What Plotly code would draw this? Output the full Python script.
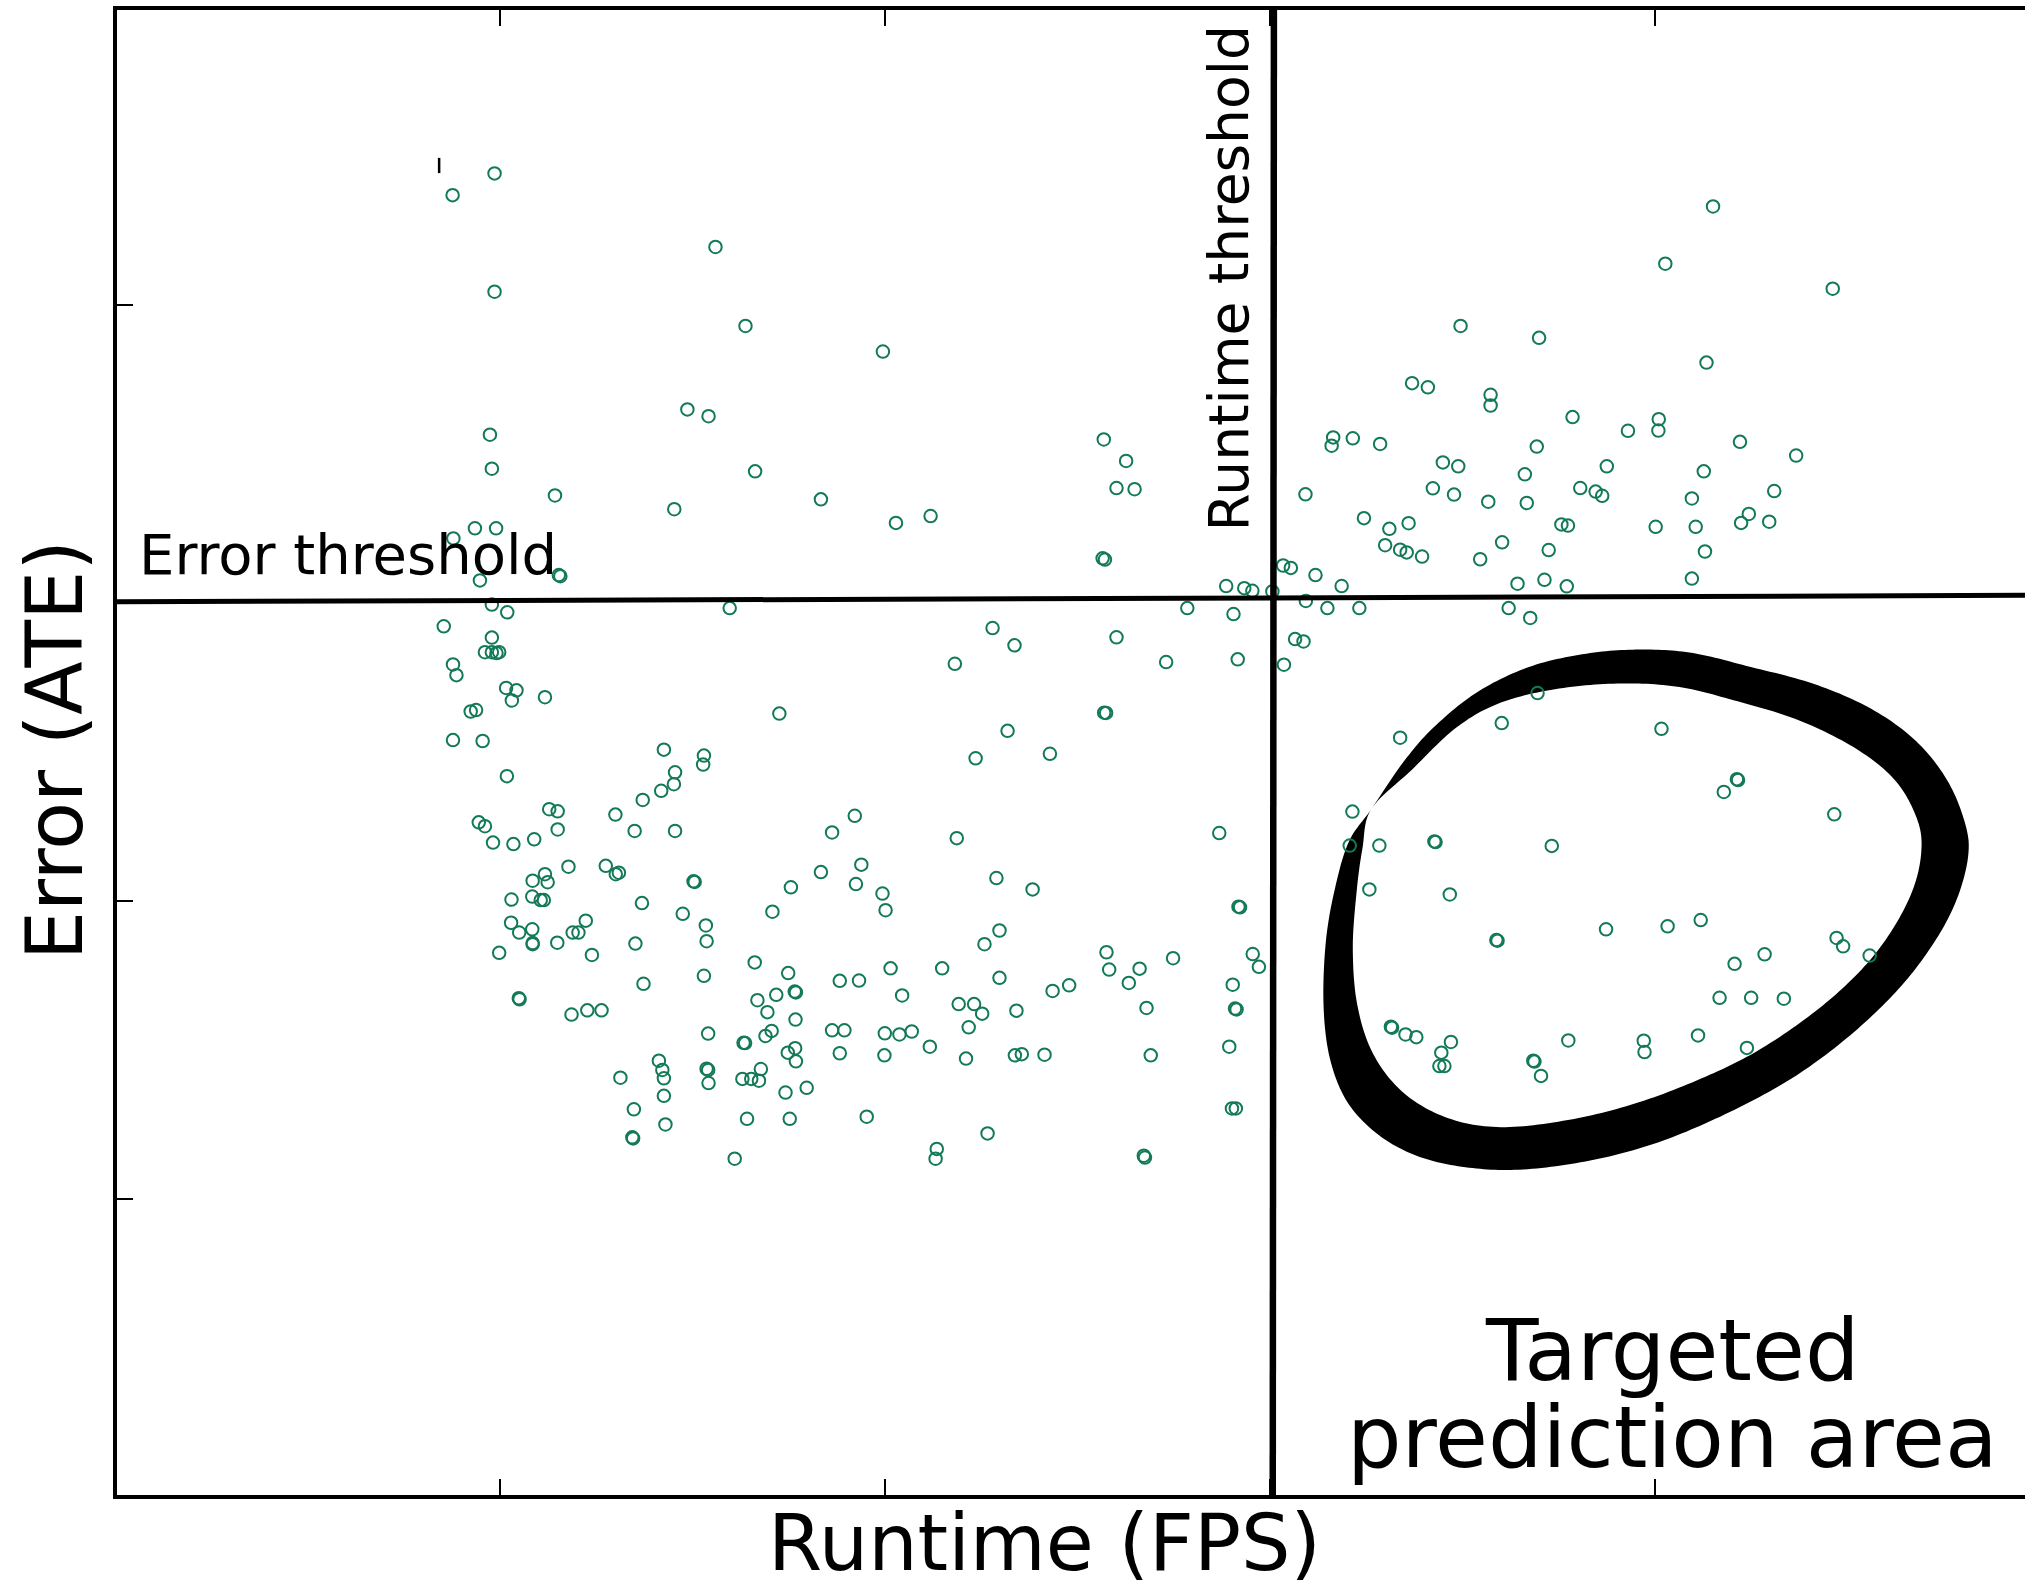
import plotly.graph_objects as go

FONT = "DejaVu Sans"

# ---- scatter data (runtime vs error, arbitrary units) ----
runtime = [
    0.986, 0.877, 1.560, 0.986, 1.638, 1.995, 1.487, 1.542, 0.974, 0.979, 1.663, 1.143, 1.834,
    2.569, 2.627, 2.602, 2.649, 3.165, 3.161, 3.216, 3.287, 3.093, 3.370,
    4.152, 4.028, 4.463, 3.496, 3.700, 4.135, 3.411, 3.574, 3.574, 3.787, 4.011, 3.931, 4.010,
    4.222, 3.694, 4.368, 3.450, 3.490, 3.663, 3.876, 4.128, 3.424, 3.479, 3.568, 3.668, 3.807,
    3.847, 3.864, 4.097, 4.311,
    2.119, 2.566, 2.572, 2.887, 2.934, 2.955, 3.007, 3.035, 3.055, 3.119, 3.187, 3.245, 3.311,
    3.300, 3.339, 3.356, 3.361, 2.786, 2.906, 3.094, 3.150, 3.233, 2.280, 2.337, 2.602, 2.182,
    2.731, 2.917, 3.066, 3.088, 3.037, 2.570, 2.575, 2.319, 2.236, 2.429, 3.339, 3.215, 2.187, 2.869,
    3.396, 3.547, 3.604, 3.725, 3.758, 3.775, 4.003, 4.107, 4.131, 4.225, 4.245, 4.298, 3.644,
    3.714, 3.772, 4.097, 3.621, 3.677,
    1.453, 2.029, 0.935, 0.990, 0.879, 1.153, 1.157, 0.948, 0.979, 1.019, 1.597, 0.854, 0.979,
    0.961, 0.979, 0.991, 0.998, 0.878, 0.887, 1.016, 1.043, 1.031, 1.117, 0.924, 0.938, 1.726,
    0.878, 0.955, 1.018, 1.426, 1.530, 1.528, 1.455, 1.452, 1.419, 1.371, 0.945, 0.961, 0.982,
    1.035, 1.089, 1.128, 1.150, 1.150, 1.300, 1.350, 1.455, 1.863, 1.922,
    1.178, 1.275, 1.301, 1.309, 1.117, 1.085, 1.124, 1.030, 1.084, 1.106, 1.114, 1.029, 1.050,
    1.084, 1.085, 1.085, 0.998, 1.149, 1.189, 1.204, 1.223, 1.239, 1.369, 1.352, 1.373, 1.503,
    1.506, 1.475, 1.535, 1.537, 1.530, 1.049, 1.051, 1.186, 1.227, 1.264, 1.541, 1.313, 1.413,
    1.422, 1.426, 1.426, 1.348, 1.430, 1.344, 1.346, 1.537, 1.541, 1.542, 1.610, 1.633, 1.637,
    1.662, 1.749, 1.669, 1.718, 1.766, 1.769, 1.695, 1.768, 1.690, 1.706, 1.748, 1.767, 1.769,
    1.630, 1.653, 1.673, 1.678, 1.742, 1.797, 1.642, 1.753, 1.834, 1.939, 1.756, 1.925, 1.708,
    1.994, 2.002, 1.883, 1.933, 2.015, 2.045, 1.863, 1.895, 2.000, 2.038, 2.070, 1.883, 1.999, 1.953,
    2.290, 2.919, 2.923, 2.384, 2.298, 2.259, 2.149, 2.298, 2.576, 2.583, 2.662, 2.634, 2.749,
    2.956, 2.972, 2.904, 2.910, 2.914, 2.436, 2.479, 2.192, 2.232, 2.253, 2.342, 2.680, 2.218,
    2.117, 2.211, 2.338, 2.356, 2.415, 2.691, 2.895, 2.902, 2.912, 2.267, 2.135, 2.132, 2.673, 2.676,
    3.696, 3.603, 4.018, 4.214, 4.217, 4.180, 4.467, 3.208, 3.285, 3.428, 3.431, 3.733, 3.259,
    3.468, 3.589, 3.592, 3.874, 4.034, 4.120, 4.473, 4.490, 4.559, 4.286, 4.208, 4.169, 4.251,
    4.336, 3.315, 3.318, 3.353, 3.381, 3.471, 3.446, 3.441, 3.454, 3.685, 3.688, 3.705, 3.776,
    3.972, 3.974, 4.113, 4.240,
]
error = [
    4.443, 4.370, 4.196, 4.046, 3.931, 3.845, 3.651, 3.628, 3.566, 3.452, 3.443, 3.362, 3.349,
    3.550, 3.478, 3.387, 3.383, 3.557, 3.529, 3.554, 3.535, 3.366, 3.739,
    4.332, 4.140, 4.056, 3.931, 3.891, 3.808, 3.725, 3.700, 3.664, 3.625, 3.618, 3.579, 3.580,
    3.542, 3.526, 3.496, 3.473, 3.460, 3.433, 3.460, 3.443, 3.386, 3.365, 3.341, 3.337, 3.387,
    3.375, 3.361, 3.352, 3.377,
    3.293, 3.151, 3.147, 3.058, 3.051, 3.042, 3.040, 3.127, 3.119, 3.095, 3.058, 3.286, 3.250,
    3.195, 3.180, 3.171, 3.269, 2.984, 2.964, 3.008, 2.984, 2.984, 2.917, 2.859, 2.886, 2.797,
    2.803, 2.812, 2.880, 2.872, 2.794, 2.633, 2.632, 2.572, 2.480, 2.495, 2.549, 2.301, 2.212, 2.229,
    3.157, 3.148, 3.205, 3.179, 3.265, 3.261, 3.257, 3.257, 3.174, 3.270, 3.300, 3.274, 3.066,
    3.079, 3.057, 3.083, 2.984, 2.951,
    3.316, 3.270, 3.252, 3.252, 3.218, 3.095, 3.091, 3.077, 2.996, 2.970, 2.984, 2.923, 2.885,
    2.836, 2.836, 2.833, 2.836, 2.795, 2.759, 2.716, 2.708, 2.674, 2.685, 2.637, 2.642, 2.630,
    2.541, 2.538, 2.420, 2.509, 2.489, 2.459, 2.433, 2.393, 2.371, 2.340, 2.265, 2.252, 2.197,
    2.192, 2.208, 2.309, 2.302, 2.241, 2.291, 2.236, 2.236, 2.231, 2.287,
    2.116, 2.119, 2.091, 2.096, 2.091, 2.069, 2.064, 2.006, 2.016, 2.004, 2.004, 1.928, 1.895,
    1.906, 1.860, 1.856, 1.827, 1.861, 1.895, 1.895, 1.935, 1.820, 1.994, 1.858, 1.723, 2.067,
    2.065, 1.958, 1.919, 1.866, 1.750, 1.675, 1.671, 1.620, 1.634, 1.634, 1.556, 1.408, 1.465,
    1.434, 1.406, 1.347, 1.302, 1.251, 1.208, 1.204, 1.438, 1.434, 1.390, 1.136, 1.525, 1.524,
    1.795, 1.759, 1.668, 1.686, 1.697, 1.694, 1.628, 1.603, 1.548, 1.565, 1.492, 1.507, 1.463,
    1.404, 1.404, 1.398, 1.437, 1.358, 1.374, 1.270, 1.270, 2.098, 2.123, 2.047, 2.058, 1.965,
    2.026, 1.970, 1.733, 1.734, 1.775, 1.684, 1.567, 1.567, 1.557, 1.553, 1.563, 1.490, 1.483, 1.277,
    2.078, 1.982, 1.980, 2.040, 1.902, 1.856, 1.775, 1.743, 1.829, 1.771, 1.774, 1.726, 1.809,
    1.823, 1.780, 1.720, 1.640, 1.637, 1.699, 1.718, 1.655, 1.655, 1.623, 1.633, 1.642, 1.577,
    1.512, 1.472, 1.483, 1.487, 1.485, 1.483, 1.512, 1.305, 1.305, 1.221, 1.169, 1.136, 1.146, 1.140,
    2.699, 2.598, 2.579, 2.410, 2.407, 2.367, 2.292, 2.187, 2.187, 2.201, 2.199, 2.186, 2.040,
    2.023, 1.870, 1.868, 1.906, 1.916, 1.937, 1.877, 1.849, 1.818, 1.822, 1.790, 1.676, 1.676,
    1.673, 1.579, 1.576, 1.553, 1.544, 1.528, 1.492, 1.447, 1.447, 1.465, 1.462, 1.414, 1.533,
    1.532, 1.494, 1.550, 1.508,
]

x_tick_vals = [1, 2, 3, 4]
y_tick_vals = [1, 2, 3, 4]

# threshold lines (hand drawn, slightly tilted)
error_threshold_x = [0.0, 4.963]
error_threshold_y = [3.005, 3.027]
runtime_threshold_x = [3.008, 3.011]
runtime_threshold_y = [0.0, 5.0]

# hand-drawn loop around the targeted area (outer and inner edge of the brush stroke)
blob_outer_x = [3.264, 3.346, 3.427, 3.543, 3.682, 3.833, 3.972, 4.100, 4.239, 4.413, 4.563,
                4.680, 4.761, 4.807, 4.815, 4.786, 4.728, 4.635, 4.508, 4.357, 4.183, 4.007,
                3.833, 3.659, 3.518, 3.390, 3.285, 3.203, 3.157, 3.140, 3.146, 3.170, 3.206]
blob_outer_y = [2.309, 2.465, 2.585, 2.705, 2.790, 2.833, 2.845, 2.833, 2.790, 2.730, 2.646,
                2.537, 2.405, 2.261, 2.153, 2.009, 1.865, 1.707, 1.550, 1.406, 1.285, 1.190,
                1.130, 1.100, 1.106, 1.142, 1.214, 1.324, 1.470, 1.650, 1.865, 2.045, 2.201]
blob_inner_x = [3.264, 3.369, 3.485, 3.601, 3.752, 3.915, 4.065, 4.216, 4.376, 4.525, 4.627,
                4.683, 4.693, 4.670, 4.612, 4.532, 4.418, 4.270, 4.121, 3.949, 3.775, 3.601,
                3.464, 3.350, 3.270, 3.228, 3.216, 3.226, 3.241]
blob_inner_y = [2.309, 2.441, 2.583, 2.667, 2.714, 2.731, 2.719, 2.671, 2.607, 2.511, 2.403,
                2.273, 2.165, 2.035, 1.893, 1.763, 1.631, 1.500, 1.405, 1.321, 1.266, 1.242,
                1.272, 1.355, 1.485, 1.650, 1.841, 2.033, 2.177]


def smooth_closed(xs, ys, n=14):
    pts = list(zip(xs, ys))
    N = len(pts)
    out = []
    for i in range(N):
        p0, p1, p2, p3 = pts[(i - 1) % N], pts[i], pts[(i + 1) % N], pts[(i + 2) % N]
        for k in range(n):
            t = k / n
            t2, t3 = t * t, t * t * t
            px = 0.5 * ((2 * p1[0]) + (-p0[0] + p2[0]) * t +
                        (2 * p0[0] - 5 * p1[0] + 4 * p2[0] - p3[0]) * t2 +
                        (-p0[0] + 3 * p1[0] - 3 * p2[0] + p3[0]) * t3)
            py = 0.5 * ((2 * p1[1]) + (-p0[1] + p2[1]) * t +
                        (2 * p0[1] - 5 * p1[1] + 4 * p2[1] - p3[1]) * t2 +
                        (-p0[1] + 3 * p1[1] - 3 * p2[1] + p3[1]) * t3)
            out.append((px, py))
    return out


def to_path(points):
    s = "M {:.4f},{:.4f} ".format(*points[0])
    s += " ".join("L {:.4f},{:.4f}".format(x, y) for x, y in points[1:])
    return s + " Z"


blob_path = to_path(smooth_closed(blob_outer_x, blob_outer_y)) + " " + \
    to_path(smooth_closed(blob_inner_x, blob_inner_y)[::-1])

fig = go.Figure()
fig.add_trace(go.Scatter(
    x=runtime, y=error, mode="markers",
    marker=dict(symbol="circle-open", size=12.5, color="#127a56", line=dict(width=2.0)),
    hoverinfo="skip", showlegend=False,
))

shapes = [
    dict(type="path", path=blob_path, xref="x", yref="y", fillcolor="black",
         line=dict(width=0), fillrule="evenodd", layer="below"),
    dict(type="line", xref="x", yref="y",
         x0=error_threshold_x[0], y0=error_threshold_y[0],
         x1=error_threshold_x[1], y1=error_threshold_y[1],
         line=dict(color="black", width=5)),
    dict(type="line", xref="x", yref="y",
         x0=runtime_threshold_x[0], y0=runtime_threshold_y[0],
         x1=runtime_threshold_x[1], y1=runtime_threshold_y[1],
         line=dict(color="black", width=6.5)),
    dict(type="line", xref="x", yref="y", x0=0.842, y0=4.444, x1=0.842, y1=4.495,
         line=dict(color="black", width=2.5)),
]

annotations = [
    dict(text="Error threshold", xref="paper", yref="paper", x=0.0107, y=0.6103,
         xanchor="left", yanchor="bottom", showarrow=False,
         font=dict(family=FONT, size=56, color="black")),
    dict(text="Runtime threshold", xref="paper", yref="paper", x=0.5830, y=0.8195,
         xanchor="center", yanchor="middle", textangle=-90, showarrow=False,
         font=dict(family=FONT, size=55, color="black")),
    dict(text="Runtime (FPS)", xref="paper", yref="paper", x=0.4860, y=-0.0004,
         xanchor="center", yanchor="top", showarrow=False,
         font=dict(family=FONT, size=78, color="black")),
    dict(text="Error (ATE)", xref="paper", yref="paper", x=-0.0321, y=0.5014,
         xanchor="center", yanchor="middle", textangle=-90, showarrow=False,
         font=dict(family=FONT, size=78, color="black")),
    dict(text="Targeted", xref="paper", yref="paper", x=0.8155, y=0.0624,
         xanchor="center", yanchor="bottom", showarrow=False,
         font=dict(family=FONT, size=86, color="black")),
    dict(text="prediction area", xref="paper", yref="paper", x=0.8155, y=0.0040,
         xanchor="center", yanchor="bottom", showarrow=False,
         font=dict(family=FONT, size=86, color="black")),
]

fig.update_layout(
    width=2025, height=1582,
    margin=dict(l=117, r=0, t=10, b=87, pad=0),
    paper_bgcolor="white", plot_bgcolor="white",
    shapes=shapes, annotations=annotations,
    font=dict(family=FONT, color="black"),
    xaxis=dict(range=[0.005, 4.9626], showgrid=False, zeroline=False,
               showline=True, linecolor="black", linewidth=4, mirror="ticks",
               ticks="inside", ticklen=16, tickwidth=2, tickcolor="black",
               tickmode="array", tickvals=x_tick_vals, showticklabels=False),
    yaxis=dict(range=[0.0074, 4.9914], showgrid=False, zeroline=False,
               showline=True, linecolor="black", linewidth=4, mirror=False,
               ticks="inside", ticklen=16, tickwidth=2, tickcolor="black",
               tickmode="array", tickvals=y_tick_vals, showticklabels=False),
)

fig.write_html("out.html", config={"displayModeBar": False})
